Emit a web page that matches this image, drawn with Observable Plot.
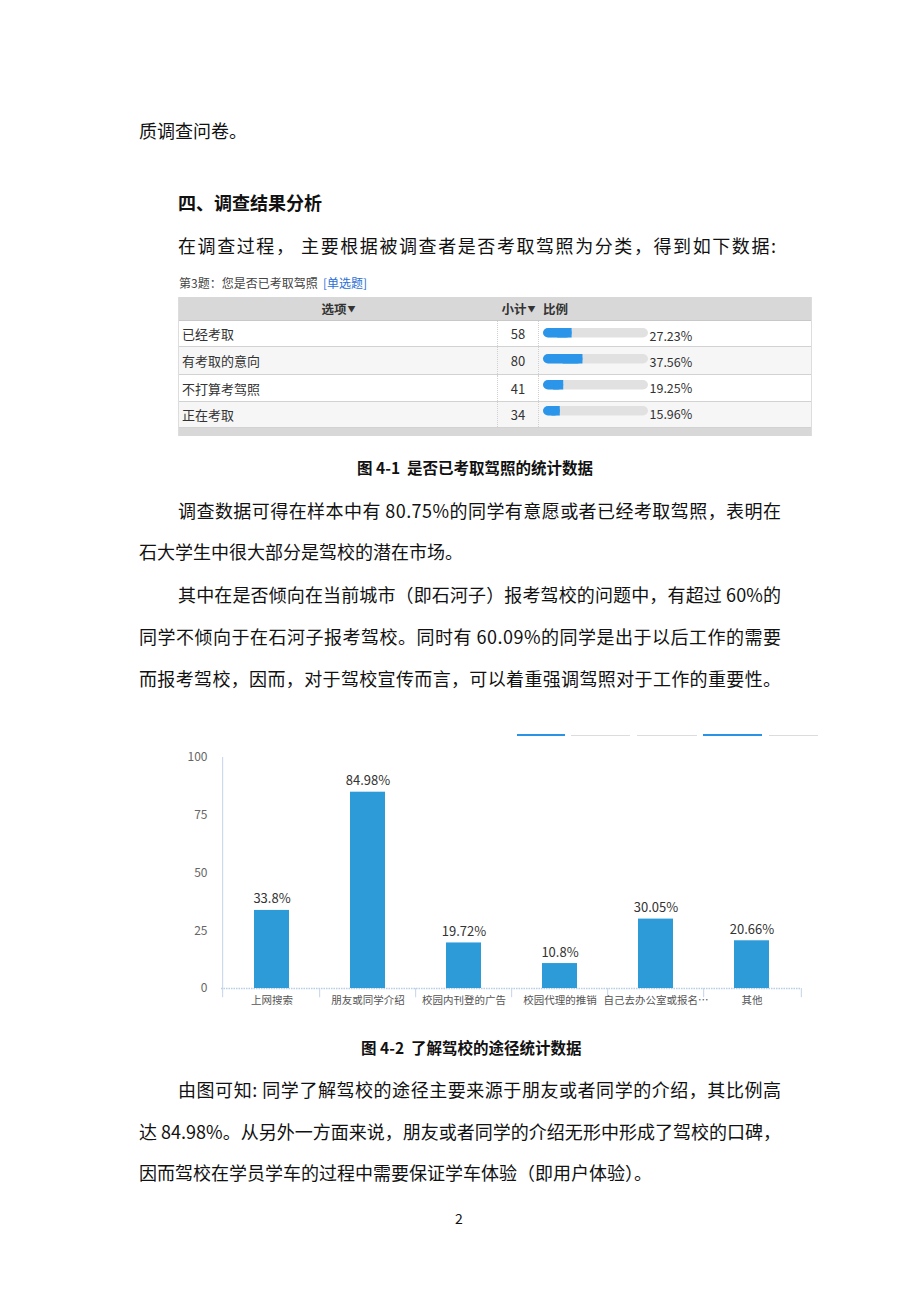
<!DOCTYPE html>
<html><head><meta charset="utf-8">
<script src="https://cdn.jsdelivr.net/npm/d3@7"></script>
<script src="https://cdn.jsdelivr.net/npm/@observablehq/plot@0.6"></script>
<style>
body{margin:0;background:#fff;}
#page{position:relative;width:920px;height:1302px;background:#fff;overflow:hidden;font-family:"Noto Sans CJK SC","Noto Sans",sans-serif;color:#111;}
.t{position:absolute;white-space:nowrap;font-size:18px;line-height:24px;}
.b{font-weight:700;}
.cap{font-size:15.5px;font-weight:700;}
.abs{position:absolute;}
#tbl{position:absolute;left:178px;top:297px;width:634px;height:139px;overflow:hidden;font-size:12.5px;color:#333;border-left:1px solid #ddd;border-right:1px solid #ddd;box-sizing:border-box;}
.row{position:absolute;left:0;width:100%;border-bottom:1px solid #d2d2d2;box-sizing:border-box;}
.cell{position:absolute;top:0;height:100%;display:flex;align-items:center;box-sizing:border-box;}
.seg{position:absolute;}
</style>
</head><body>
<div id="page">
  <div class="t" style="left:139px;top:118px;">质调查问卷。</div>
  <div class="t b" style="left:178px;top:190px;">四、调查结果分析</div>
  <div class="t" data-w="598" style="left:178px;top:233px;">在调查过程， 主要根据被调查者是否考取驾照为分类，得到如下数据:</div>

  <div class="abs" style="left:179px;top:275px;font-size:12px;color:#444;line-height:16px;white-space:nowrap;">第3题：您是否已考取驾照&nbsp; <span style="color:#2a6fd6">[单选题]</span></div>
  <div id="tbl"></div>

  <div class="t cap" style="left:357px;top:455px;">图 4-1&nbsp; 是否已考取驾照的统计数据</div>

  <div class="t" data-w="603" style="left:178px;top:498px;">调查数据可得在样本中有 80.75%的同学有意愿或者已经考取驾照，表明在</div>
  <div class="t" style="left:139px;top:539px;">石大学生中很大部分是驾校的潜在市场。</div>
  <div class="t" data-w="603" style="left:178px;top:582px;">其中在是否倾向在当前城市（即石河子）报考驾校的问题中，有超过 60%的</div>
  <div class="t" data-w="642" style="left:139px;top:624px;">同学不倾向于在石河子报考驾校。同时有 60.09%的同学是出于以后工作的需要</div>
  <div class="t" data-w="642" style="left:139px;top:666px;">而报考驾校，因而，对于驾校宣传而言，可以着重强调驾照对于工作的重要性。</div>

  <div class="seg" style="left:517px;top:733.5px;width:48px;height:2.5px;background:#2b93e6;"></div>
  <div class="seg" style="left:571px;top:735px;width:59px;height:1px;background:#dcdcdc;"></div>
  <div class="seg" style="left:637px;top:735px;width:60px;height:1px;background:#dcdcdc;"></div>
  <div class="seg" style="left:703px;top:733.5px;width:59px;height:2.5px;background:#2b93e6;"></div>
  <div class="seg" style="left:769px;top:735px;width:49px;height:1px;background:#dcdcdc;"></div>

  <div id="chart" class="abs" style="left:160px;top:740px;"></div>

  <div class="t cap" style="left:361px;top:1035px;">图 4-2&nbsp; 了解驾校的途径统计数据</div>

  <div class="t" data-w="603" style="left:178px;top:1077px;">由图可知: 同学了解驾校的途径主要来源于朋友或者同学的介绍，其比例高</div>
  <div class="t" data-w="642" style="left:139px;top:1119px;">达 84.98%。从另外一方面来说，朋友或者同学的介绍无形中形成了驾校的口碑，</div>
  <div class="t" style="left:139px;top:1160px;">因而驾校在学员学车的过程中需要保证学车体验（即用户体验）。</div>

  <div class="t" style="left:455px;top:1208px;font-size:14px;line-height:20px;">2</div>
</div>
<script>
// ---- Figure 4-1 table data ----
const tableOptions = ["已经考取", "有考取的意向", "不打算考驾照", "正在考取"];
const tableCounts = [58, 80, 41, 34];
const tablePercents = [27.23, 37.56, 19.25, 15.96];

// ---- Figure 4-2 chart data ----
const categories = ["上网搜索", "朋友或同学介绍", "校园内刊登的广告", "校园代理的推销", "自己去办公室或报名…", "其他"];
const values = [33.8, 84.98, 19.72, 10.8, 30.05, 20.66];
const valueLabels = ["33.8%", "84.98%", "19.72%", "10.8%", "30.05%", "20.66%"];
const yTicks = [0, 25, 50, 75, 100];

// ---- build table (HTML layout) ----
const tbl = document.getElementById("tbl");
const rowTops = [0, 24, 50, 78, 105, 131];
function addRow(top, h, bg) {
  const r = document.createElement("div");
  r.className = "row";
  r.style.top = top + "px"; r.style.height = h + "px"; r.style.background = bg;
  tbl.appendChild(r);
  return r;
}
function addCell(row, left, width, html, justify, extra) {
  const c = document.createElement("div");
  c.className = "cell";
  c.style.left = left + "px"; c.style.width = width + "px";
  c.style.justifyContent = justify;
  if (extra) Object.assign(c.style, extra);
  c.innerHTML = html;
  row.appendChild(c);
  return c;
}
const colL = 319, colC = 41; // option column, count column widths
const hdr = addRow(0, 24, "#d8d8d8");
hdr.style.borderBottom = "1px solid #c8c8c8";
addCell(hdr, 0, colL, '<b style="font-weight:700;color:#333">选项</b><span style="font-size:8px;margin-left:1px">▼</span>', "center");
addCell(hdr, colL, colC, '<b style="font-weight:700;color:#333">小计</b><span style="font-size:8px;margin-left:1px">▼</span>', "center");
addCell(hdr, colL + colC, 200, '<b style="font-weight:700;color:#333">比例</b>', "flex-start", {paddingLeft: "4px"});
tableOptions.forEach((o, i) => {
  const h = rowTops[i + 2] - rowTops[i + 1];
  const r = addRow(rowTops[i + 1], h, i % 2 ? "#f6f6f6" : "#fff");
  addCell(r, 0, colL, o, "flex-start", {paddingLeft: "3px", borderRight: "1px dotted #d0d0d0", fontSize: "13px"});
  addCell(r, colL, colC, String(tableCounts[i]), "center", {borderRight: "1px dotted #d0d0d0", fontSize: "13px"});
});
addRow(131, 24, "#d8d8d8");

// progress bars (Plot)
const rows = tableOptions.map((o, i) => ({option: o, pct: tablePercents[i]}));
const prog = Plot.plot({
  width: 160, height: 107,
  marginTop: 0, marginBottom: 0, marginLeft: 4, marginRight: 51,
  style: {background: "transparent", fontFamily: "Noto Sans CJK SC, sans-serif", overflow: "visible"},
  x: {domain: [0, 100], axis: null},
  y: {domain: tableOptions, axis: null, padding: 0},
  marks: [
    Plot.barX(rows, {x1: 0, x2: 100, y: "option", fill: "#e1e1e1", rx: 5, insetTop: 5, insetBottom: 11.5}),
    Plot.barX(rows, {x1: 0, x2: "pct", y: "option", fill: "#2b95ea", rx: 5, insetTop: 5, insetBottom: 11.5}),
    Plot.barX(rows, {x1: d => d.pct / 2, x2: "pct", y: "option", fill: "#2b95ea", insetTop: 5, insetBottom: 11.5}),
    Plot.text(rows, {x: 100, y: "option", text: d => d.pct.toFixed(2) + "%", textAnchor: "start", dx: 1, dy: 0, fontSize: 12.5, fill: "#333"})
  ]
});
prog.style.position = "absolute";
prog.style.left = (colL + colC) + "px";
prog.style.top = "24px";
tbl.appendChild(prog);

// ---- Figure 4-2 chart ----
const data = categories.map((c, i) => ({cat: c, value: values[i], label: valueLabels[i]}));
const W = 660, ML = 61, MR = 19;
const step = (W - ML - MR) / categories.length;
const chart = Plot.plot({
  width: W, height: 278,
  marginLeft: ML, marginRight: MR, marginTop: 17, marginBottom: 30,
  style: {background: "transparent", fontFamily: "Noto Sans CJK SC, sans-serif", fontSize: "12px", color: "#666", overflow: "visible"},
  x: {domain: categories, paddingInner: 0.64, paddingOuter: 0.32, axis: null, label: null},
  y: {domain: [0, 100], axis: null, label: null},
  marks: [
    Plot.ruleY([0], {stroke: "#b9cde6", strokeDasharray: "1.5,1", strokeWidth: 1.5}),
    Plot.ruleX([categories[0]], {dx: -step / 2 - 1, y1: -4, y2: 100, stroke: "#c3d3e8"}),
    Plot.ruleX(categories.slice(1), {dx: -step / 2, y1: -4, y2: 0, stroke: "#c3d3e8"}),
    Plot.ruleX([categories[categories.length - 1]], {dx: step / 2 + 1, y1: -4, y2: 0, stroke: "#c3d3e8"}),
    Plot.barY(data, {x: "cat", y: "value", fill: "#2e9bd9"}),
    Plot.text(data, {x: "cat", y: "value", text: "label", dy: -7, lineAnchor: "bottom", fontSize: 13, fill: "#333"}),
    Plot.axisY({ticks: yTicks, tickSize: 0, tickPadding: 14, fontSize: 12, fill: "#666", label: null}),
    Plot.axisX({tickSize: 0, tickPadding: 8, fontSize: 10.5, fill: "#555", label: null})
  ]
});
document.getElementById("chart").appendChild(chart);

// ---- justify single text lines to their target width ----
function justify() {
  document.querySelectorAll("[data-w]").forEach(el => {
    el.style.letterSpacing = "0px";
    const nat = el.getBoundingClientRect().width;
    const n = [...el.textContent].length;
    if (n > 1) el.style.letterSpacing = ((+el.dataset.w - nat) / (n - 1)) + "px";
  });
}
justify();
if (document.fonts && document.fonts.ready) document.fonts.ready.then(justify);
</script>
</body></html>
